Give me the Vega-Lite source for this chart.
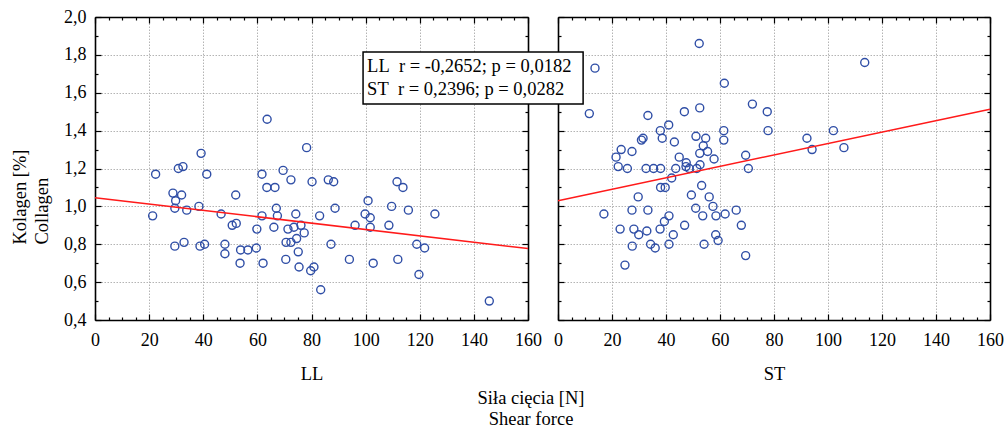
{
  "$schema": "https://vega.github.io/schema/vega-lite/v6.json",
  "background": "white",
  "padding": {"left": 10, "top": 8, "right": 5, "bottom": 0},
  "config": {
    "view": {"stroke": null},
    "font": "Liberation Serif, serif",
    "axis": {
      "domainColor": "black",
      "domainWidth": 1.6,
      "tickColor": "black",
      "tickWidth": 1.2,
      "labelFont": "Liberation Serif, serif",
      "labelFontSize": 18,
      "labelColor": "black",
      "labelFlush": false,
      "labelOverlap": false,
      "labelBound": false,
      "titleFont": "Liberation Serif, serif",
      "titleFontSize": 18.5,
      "titleFontWeight": "normal",
      "titleColor": "black",
      "gridColor": "#b4b4b4",
      "gridDash": [1.5, 1.5],
      "gridWidth": 1
    },
    "text": {"font": "Liberation Serif, serif"}
  },
  "title": {
    "text": ["Siła cięcia [N]", "Shear force"],
    "orient": "bottom",
    "anchor": "middle",
    "font": "Liberation Serif, serif",
    "fontSize": 18.5,
    "fontWeight": "normal",
    "color": "black",
    "lineHeight": 21,
    "offset": 6,
    "dx": 24
  },
  "spacing": 30,
  "bounds": "flush",
  "datasets": {
    "pts": [
      {"panel": "LL", "force": 21.3, "collagen": 0.95},
      {"panel": "LL", "force": 22.4, "collagen": 1.17},
      {"panel": "LL", "force": 28.8, "collagen": 1.07},
      {"panel": "LL", "force": 29.8, "collagen": 1.03},
      {"panel": "LL", "force": 29.5, "collagen": 0.99},
      {"panel": "LL", "force": 29.5, "collagen": 0.79},
      {"panel": "LL", "force": 30.8, "collagen": 1.20},
      {"panel": "LL", "force": 32.5, "collagen": 1.21},
      {"panel": "LL", "force": 32.0, "collagen": 1.06},
      {"panel": "LL", "force": 32.9, "collagen": 0.81},
      {"panel": "LL", "force": 33.9, "collagen": 0.98},
      {"panel": "LL", "force": 38.4, "collagen": 1.00},
      {"panel": "LL", "force": 38.8, "collagen": 0.79},
      {"panel": "LL", "force": 40.5, "collagen": 0.80},
      {"panel": "LL", "force": 41.3, "collagen": 1.17},
      {"panel": "LL", "force": 39.2, "collagen": 1.28},
      {"panel": "LL", "force": 46.6, "collagen": 0.96},
      {"panel": "LL", "force": 48.0, "collagen": 0.80},
      {"panel": "LL", "force": 48.0, "collagen": 0.75},
      {"panel": "LL", "force": 50.7, "collagen": 0.90},
      {"panel": "LL", "force": 52.2, "collagen": 0.91},
      {"panel": "LL", "force": 52.0, "collagen": 1.06},
      {"panel": "LL", "force": 53.8, "collagen": 0.77},
      {"panel": "LL", "force": 53.6, "collagen": 0.70},
      {"panel": "LL", "force": 56.5, "collagen": 0.77},
      {"panel": "LL", "force": 59.8, "collagen": 0.88},
      {"panel": "LL", "force": 59.6, "collagen": 0.78},
      {"panel": "LL", "force": 61.7, "collagen": 1.17},
      {"panel": "LL", "force": 61.7, "collagen": 0.95},
      {"panel": "LL", "force": 62.1, "collagen": 0.70},
      {"panel": "LL", "force": 63.5, "collagen": 1.10},
      {"panel": "LL", "force": 66.5, "collagen": 1.10},
      {"panel": "LL", "force": 67.0, "collagen": 0.99},
      {"panel": "LL", "force": 67.4, "collagen": 0.95},
      {"panel": "LL", "force": 66.1, "collagen": 0.89},
      {"panel": "LL", "force": 69.5, "collagen": 1.19},
      {"panel": "LL", "force": 70.6, "collagen": 0.81},
      {"panel": "LL", "force": 70.5, "collagen": 0.72},
      {"panel": "LL", "force": 71.3, "collagen": 0.88},
      {"panel": "LL", "force": 72.4, "collagen": 1.14},
      {"panel": "LL", "force": 72.4, "collagen": 0.81},
      {"panel": "LL", "force": 73.5, "collagen": 0.89},
      {"panel": "LL", "force": 74.2, "collagen": 0.96},
      {"panel": "LL", "force": 74.5, "collagen": 0.83},
      {"panel": "LL", "force": 75.1, "collagen": 0.76},
      {"panel": "LL", "force": 75.4, "collagen": 0.68},
      {"panel": "LL", "force": 76.1, "collagen": 0.90},
      {"panel": "LL", "force": 77.3, "collagen": 0.86},
      {"panel": "LL", "force": 79.7, "collagen": 0.66},
      {"panel": "LL", "force": 80.9, "collagen": 0.68},
      {"panel": "LL", "force": 80.2, "collagen": 1.13},
      {"panel": "LL", "force": 83.0, "collagen": 0.95},
      {"panel": "LL", "force": 83.4, "collagen": 0.56},
      {"panel": "LL", "force": 86.2, "collagen": 1.14},
      {"panel": "LL", "force": 88.2, "collagen": 1.13},
      {"panel": "LL", "force": 88.7, "collagen": 0.99},
      {"panel": "LL", "force": 87.2, "collagen": 0.80},
      {"panel": "LL", "force": 63.6, "collagen": 1.46},
      {"panel": "LL", "force": 78.2, "collagen": 1.31},
      {"panel": "LL", "force": 94.0, "collagen": 0.72},
      {"panel": "LL", "force": 96.1, "collagen": 0.90},
      {"panel": "LL", "force": 99.8, "collagen": 0.96},
      {"panel": "LL", "force": 100.9, "collagen": 1.03},
      {"panel": "LL", "force": 101.7, "collagen": 0.94},
      {"panel": "LL", "force": 101.7, "collagen": 0.89},
      {"panel": "LL", "force": 102.8, "collagen": 0.70},
      {"panel": "LL", "force": 108.6, "collagen": 0.90},
      {"panel": "LL", "force": 109.6, "collagen": 1.00},
      {"panel": "LL", "force": 111.6, "collagen": 1.13},
      {"panel": "LL", "force": 113.8, "collagen": 1.10},
      {"panel": "LL", "force": 111.9, "collagen": 0.72},
      {"panel": "LL", "force": 115.8, "collagen": 0.98},
      {"panel": "LL", "force": 118.9, "collagen": 0.80},
      {"panel": "LL", "force": 121.8, "collagen": 0.78},
      {"panel": "LL", "force": 119.7, "collagen": 0.64},
      {"panel": "LL", "force": 125.6, "collagen": 0.96},
      {"panel": "LL", "force": 145.7, "collagen": 0.50},
      {"panel": "ST", "force": 13.7, "collagen": 1.73},
      {"panel": "ST", "force": 11.6, "collagen": 1.49},
      {"panel": "ST", "force": 52.3, "collagen": 1.86},
      {"panel": "ST", "force": 61.6, "collagen": 1.65},
      {"panel": "ST", "force": 52.5, "collagen": 1.52},
      {"panel": "ST", "force": 46.8, "collagen": 1.50},
      {"panel": "ST", "force": 33.3, "collagen": 1.48},
      {"panel": "ST", "force": 72.0, "collagen": 1.54},
      {"panel": "ST", "force": 77.5, "collagen": 1.50},
      {"panel": "ST", "force": 77.8, "collagen": 1.40},
      {"panel": "ST", "force": 37.9, "collagen": 1.40},
      {"panel": "ST", "force": 41.0, "collagen": 1.43},
      {"panel": "ST", "force": 38.6, "collagen": 1.36},
      {"panel": "ST", "force": 31.5, "collagen": 1.36},
      {"panel": "ST", "force": 30.9, "collagen": 1.35},
      {"panel": "ST", "force": 43.1, "collagen": 1.34},
      {"panel": "ST", "force": 51.1, "collagen": 1.37},
      {"panel": "ST", "force": 54.7, "collagen": 1.36},
      {"panel": "ST", "force": 53.8, "collagen": 1.32},
      {"panel": "ST", "force": 55.4, "collagen": 1.29},
      {"panel": "ST", "force": 61.4, "collagen": 1.40},
      {"panel": "ST", "force": 61.4, "collagen": 1.35},
      {"panel": "ST", "force": 52.5, "collagen": 1.28},
      {"panel": "ST", "force": 44.9, "collagen": 1.26},
      {"panel": "ST", "force": 47.5, "collagen": 1.23},
      {"panel": "ST", "force": 57.8, "collagen": 1.25},
      {"panel": "ST", "force": 69.5, "collagen": 1.27},
      {"panel": "ST", "force": 23.4, "collagen": 1.30},
      {"panel": "ST", "force": 21.5, "collagen": 1.26},
      {"panel": "ST", "force": 27.4, "collagen": 1.29},
      {"panel": "ST", "force": 52.6, "collagen": 1.22},
      {"panel": "ST", "force": 22.3, "collagen": 1.21},
      {"panel": "ST", "force": 25.7, "collagen": 1.20},
      {"panel": "ST", "force": 32.6, "collagen": 1.20},
      {"panel": "ST", "force": 35.4, "collagen": 1.20},
      {"panel": "ST", "force": 38.0, "collagen": 1.20},
      {"panel": "ST", "force": 43.6, "collagen": 1.20},
      {"panel": "ST", "force": 47.4, "collagen": 1.21},
      {"panel": "ST", "force": 48.6, "collagen": 1.20},
      {"panel": "ST", "force": 51.4, "collagen": 1.20},
      {"panel": "ST", "force": 70.5, "collagen": 1.20},
      {"panel": "ST", "force": 42.1, "collagen": 1.15},
      {"panel": "ST", "force": 38.0, "collagen": 1.10},
      {"panel": "ST", "force": 39.7, "collagen": 1.10},
      {"panel": "ST", "force": 53.2, "collagen": 1.11},
      {"panel": "ST", "force": 49.4, "collagen": 1.06},
      {"panel": "ST", "force": 29.7, "collagen": 1.05},
      {"panel": "ST", "force": 56.0, "collagen": 1.05},
      {"panel": "ST", "force": 57.4, "collagen": 1.00},
      {"panel": "ST", "force": 51.0, "collagen": 0.99},
      {"panel": "ST", "force": 53.6, "collagen": 0.95},
      {"panel": "ST", "force": 58.5, "collagen": 0.95},
      {"panel": "ST", "force": 61.9, "collagen": 0.96},
      {"panel": "ST", "force": 66.0, "collagen": 0.98},
      {"panel": "ST", "force": 67.9, "collagen": 0.90},
      {"panel": "ST", "force": 17.0, "collagen": 0.96},
      {"panel": "ST", "force": 27.4, "collagen": 0.98},
      {"panel": "ST", "force": 33.3, "collagen": 0.98},
      {"panel": "ST", "force": 41.1, "collagen": 0.95},
      {"panel": "ST", "force": 39.4, "collagen": 0.92},
      {"panel": "ST", "force": 46.9, "collagen": 0.90},
      {"panel": "ST", "force": 23.0, "collagen": 0.88},
      {"panel": "ST", "force": 28.1, "collagen": 0.88},
      {"panel": "ST", "force": 29.9, "collagen": 0.85},
      {"panel": "ST", "force": 32.9, "collagen": 0.87},
      {"panel": "ST", "force": 37.8, "collagen": 0.88},
      {"panel": "ST", "force": 42.7, "collagen": 0.85},
      {"panel": "ST", "force": 58.4, "collagen": 0.85},
      {"panel": "ST", "force": 59.3, "collagen": 0.82},
      {"panel": "ST", "force": 27.5, "collagen": 0.79},
      {"panel": "ST", "force": 34.3, "collagen": 0.80},
      {"panel": "ST", "force": 36.0, "collagen": 0.78},
      {"panel": "ST", "force": 41.1, "collagen": 0.80},
      {"panel": "ST", "force": 54.1, "collagen": 0.80},
      {"panel": "ST", "force": 69.5, "collagen": 0.74},
      {"panel": "ST", "force": 24.8, "collagen": 0.69},
      {"panel": "ST", "force": 113.6, "collagen": 1.76},
      {"panel": "ST", "force": 92.2, "collagen": 1.36},
      {"panel": "ST", "force": 94.1, "collagen": 1.30},
      {"panel": "ST", "force": 102.0, "collagen": 1.40},
      {"panel": "ST", "force": 105.9, "collagen": 1.31}
    ],
    "fit": [
      {"panel": "LL", "force": 0, "collagen": 1.046},
      {"panel": "LL", "force": 160, "collagen": 0.777},
      {"panel": "ST", "force": 0, "collagen": 1.030},
      {"panel": "ST", "force": 160, "collagen": 1.513}
    ]
  },
  "hconcat": [
    {
      "width": 433,
      "height": 303,
      "resolve": {"axis": {"x": "independent", "y": "independent"}},
      "layer": [
        {
          "data": {"name": "pts"},
          "transform": [{"filter": "datum.panel === 'LL'"}],
          "mark": {"type": "point", "shape": "circle", "filled": false, "stroke": "#2f4ea6", "strokeWidth": 1.4, "size": 64, "opacity": 1},
          "encoding": {
            "x": {
              "field": "force", "type": "quantitative",
              "scale": {"domain": [0, 160], "nice": false, "zero": false},
              "axis": {
                "orient": "bottom", "title": "LL", "titlePadding": 12,
                "titleFont": "Liberation Serif, serif", "labelFont": "Liberation Serif, serif", "labelFontSize": 18,
                "values": [0,5,10,15,20,25,30,35,40,45,50,55,60,65,70,75,80,85,90,95,100,105,110,115,120,125,130,135,140,145,150,155,160],
                "labelExpr": "datum.value % 20 === 0 ? datum.label : ''",
                "labelPadding": 17,
                "tickSize": {"condition": {"test": "datum.value % 20 === 0", "value": -6}, "value": -3},
                "grid": true,
                "gridOpacity": {"condition": {"test": "datum.value % 20 === 0", "value": 1}, "value": 0}
              }
            },
            "y": {
              "field": "collagen", "type": "quantitative",
              "scale": {"domain": [0.4, 2.0], "nice": false, "zero": false},
              "axis": {
                "orient": "left",
                "title": ["Kolagen [%]", "Collagen"],
                "titleFont": "Liberation Serif, serif", "labelFont": "Liberation Serif, serif", "labelFontSize": 18,
                "titleAngle": 270, "titleAlign": "left", "titleBaseline": "alphabetic",
                "titleX": -69.5, "titleY": 227, "titleLineHeight": 21.5,
                "values": [0.4,0.5,0.6,0.7,0.8,0.9,1.0,1.1,1.2,1.3,1.4,1.5,1.6,1.7,1.8,1.9,2.0],
                "labelExpr": "round(datum.value*10) % 2 === 0 ? replace(format(datum.value, '.1f'), '.', ',') : ''",
                "labelPadding": 15,
                "tickSize": {"condition": {"test": "round(datum.value*10) % 2 === 0", "value": -6}, "value": -3},
                "grid": true,
                "gridOpacity": {"condition": {"test": "round(datum.value*10) % 2 === 0", "value": 1}, "value": 0}
              }
            }
          }
        },
        {
          "data": {"name": "fit"},
          "transform": [{"filter": "datum.panel === 'LL'"}],
          "mark": {"type": "line", "color": "#ff1a1a", "strokeWidth": 1.5},
          "encoding": {
            "x": {
              "field": "force", "type": "quantitative",
              "scale": {"domain": [0, 160], "nice": false, "zero": false},
              "axis": {
                "orient": "top", "title": null, "labels": false, "grid": false,
                "values": [0,5,10,15,20,25,30,35,40,45,50,55,60,65,70,75,80,85,90,95,100,105,110,115,120,125,130,135,140,145,150,155,160],
                "tickSize": {"condition": {"test": "datum.value % 20 === 0", "value": -6}, "value": -3}
              }
            },
            "y": {
              "field": "collagen", "type": "quantitative",
              "scale": {"domain": [0.4, 2.0], "nice": false, "zero": false},
              "axis": {
                "orient": "right", "title": null, "labels": false, "grid": false,
                "values": [0.4,0.5,0.6,0.7,0.8,0.9,1.0,1.1,1.2,1.3,1.4,1.5,1.6,1.7,1.8,1.9,2.0],
                "tickSize": {"condition": {"test": "round(datum.value*10) % 2 === 0", "value": -6}, "value": -3}
              }
            }
          }
        }
      ]
    },
    {
      "width": 432,
      "height": 303,
      "resolve": {"axis": {"x": "independent", "y": "independent"}},
      "layer": [
        {
          "data": {"name": "pts"},
          "transform": [{"filter": "datum.panel === 'ST'"}],
          "mark": {"type": "point", "shape": "circle", "filled": false, "stroke": "#2f4ea6", "strokeWidth": 1.4, "size": 64, "opacity": 1},
          "encoding": {
            "x": {
              "field": "force", "type": "quantitative",
              "scale": {"domain": [0, 160], "nice": false, "zero": false},
              "axis": {
                "orient": "bottom", "title": "ST", "titlePadding": 12,
                "titleFont": "Liberation Serif, serif", "labelFont": "Liberation Serif, serif", "labelFontSize": 18,
                "values": [0,5,10,15,20,25,30,35,40,45,50,55,60,65,70,75,80,85,90,95,100,105,110,115,120,125,130,135,140,145,150,155,160],
                "labelExpr": "datum.value % 20 === 0 ? datum.label : ''",
                "labelPadding": 17,
                "tickSize": {"condition": {"test": "datum.value % 20 === 0", "value": -6}, "value": -3},
                "grid": true,
                "gridOpacity": {"condition": {"test": "datum.value % 20 === 0", "value": 1}, "value": 0}
              }
            },
            "y": {
              "field": "collagen", "type": "quantitative",
              "scale": {"domain": [0.4, 2.0], "nice": false, "zero": false},
              "axis": {
                "orient": "left", "title": null, "labels": false,
                "values": [0.4,0.5,0.6,0.7,0.8,0.9,1.0,1.1,1.2,1.3,1.4,1.5,1.6,1.7,1.8,1.9,2.0],
                "tickSize": {"condition": {"test": "round(datum.value*10) % 2 === 0", "value": -6}, "value": -3},
                "grid": true,
                "gridOpacity": {"condition": {"test": "round(datum.value*10) % 2 === 0", "value": 1}, "value": 0}
              }
            }
          }
        },
        {
          "data": {"name": "fit"},
          "transform": [{"filter": "datum.panel === 'ST'"}],
          "mark": {"type": "line", "color": "#ff1a1a", "strokeWidth": 1.5},
          "encoding": {
            "x": {
              "field": "force", "type": "quantitative",
              "scale": {"domain": [0, 160], "nice": false, "zero": false},
              "axis": {
                "orient": "top", "title": null, "labels": false, "grid": false,
                "values": [0,5,10,15,20,25,30,35,40,45,50,55,60,65,70,75,80,85,90,95,100,105,110,115,120,125,130,135,140,145,150,155,160],
                "tickSize": {"condition": {"test": "datum.value % 20 === 0", "value": -6}, "value": -3}
              }
            },
            "y": {
              "field": "collagen", "type": "quantitative",
              "scale": {"domain": [0.4, 2.0], "nice": false, "zero": false},
              "axis": {
                "orient": "right", "title": null, "labels": false, "grid": false,
                "values": [0.4,0.5,0.6,0.7,0.8,0.9,1.0,1.1,1.2,1.3,1.4,1.5,1.6,1.7,1.8,1.9,2.0],
                "tickSize": {"condition": {"test": "round(datum.value*10) % 2 === 0", "value": -6}, "value": -3}
              }
            }
          }
        },
        {
          "data": {"values": [{}]},
          "mark": {"type": "rect", "fill": "white", "stroke": "black", "strokeWidth": 1.5, "clip": false},
          "encoding": {
            "x": {"datum": -72.2, "type": "quantitative", "axis": null},
            "x2": {"datum": 9.3},
            "y": {"datum": 1.815, "type": "quantitative", "axis": null},
            "y2": {"datum": 1.541}
          }
        },
        {
          "data": {"values": [{}]},
          "mark": {"type": "text", "text": ["LL\u00a0\u00a0r = -0,2652; p = 0,0182", "ST\u00a0\u00a0r = 0,2396; p = 0,0282"], "align": "left", "baseline": "alphabetic", "font": "Liberation Serif, serif", "fontSize": 18.5, "lineHeight": 23, "color": "black", "clip": false},
          "encoding": {
            "x": {"datum": -70.7, "type": "quantitative", "axis": null},
            "y": {"datum": 1.71, "type": "quantitative", "axis": null}
          }
        }
      ]
    }
  ]
}
